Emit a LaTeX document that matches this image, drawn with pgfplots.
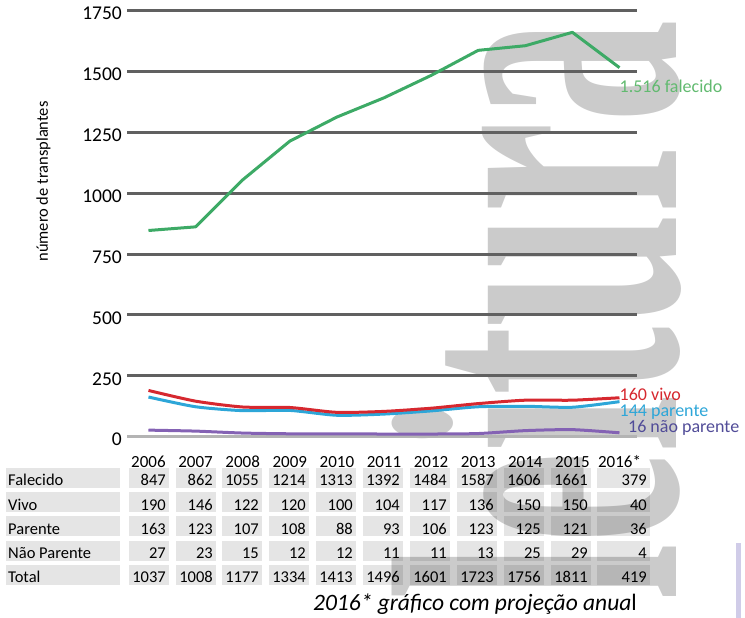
\documentclass[border=0pt]{standalone}
\usepackage{pgfplots}
\pgfplotsset{compat=1.18}
\usepackage{fontspec}
\setmainfont{Carlito}
\newfontfamily\wmfont{Liberation Serif}

\definecolor{gridc}{HTML}{606060}
\definecolor{zeroc}{HTML}{B4B4B4}
\definecolor{wm}{HTML}{CBCBCB}
\definecolor{falc}{HTML}{3DAA66}
\definecolor{fallab}{HTML}{62BA70}
\definecolor{vivoc}{HTML}{D6282F}
\definecolor{parc}{HTML}{2DA6D8}
\definecolor{naoc}{HTML}{8462B4}
\definecolor{naolab}{HTML}{514C98}

\newcommand\tabfont{\fontsize{16.5bp}{18bp}\selectfont}

\begin{document}
\begin{tikzpicture}
\begin{scope}[x=1bp,y=1bp]
\path[use as bounding box] (0,0) rectangle (745,618);

% watermark
\node[rotate=90, anchor=base east, inner sep=0pt, text=wm]
  at (676,598) {\scalebox{0.5}[1]{\wmfont\bfseries\fontsize{410bp}{410bp}\selectfont leitura}};
\fill[color={rgb,255:red,208;green,204;blue,232}] (736,0) rectangle (741,75);

% table below the chart
\foreach \lab/\vals [count=\r from 0] in {
  Falecido/{847,862,1055,1214,1313,1392,1484,1587,1606,1661,379},
  Vivo/{190,146,122,120,100,104,117,136,150,150,40},
  Parente/{163,123,107,108,88,93,106,123,125,121,36},
  Não Parente/{27,23,15,12,12,11,11,13,25,29,4},
  Total/{1037,1008,1177,1334,1413,1496,1601,1723,1756,1811,419}}
{
  \pgfmathsetmacro\by{618-486-24.2*\r}
  \fill[black, fill opacity=0.1] (6,\by-2) rectangle (120,\by+18);
  \node[anchor=base west, inner sep=0pt, font=\tabfont] at (8,\by) {\lab};
  \foreach \v [count=\c] in \vals {
    \pgfmathsetmacro\rx{{166,213,259,306,353,400,447,494,541,588,647}[\c-1]}
    \pgfmathsetmacro\lx{\c==11 ? 597 : \rx-37}
    \fill[black, fill opacity=0.1] (\lx,\by-2) rectangle (\rx+3,\by+18);
    \node[anchor=base east, inner sep=0pt, font=\tabfont] at (\rx,\by) {\v};
  }
}

\node[rotate=90, inner sep=0pt, font=\fontsize{16.5bp}{18bp}\selectfont]
  at (43.5,436.4) {número de transplantes};

\node[anchor=base, inner sep=0pt, font=\fontsize{23.5bp}{25bp}\selectfont]
  at (475,7) {\itshape 2016* gráfico com projeção anua\upshape l};
\end{scope}

\begin{axis}[
  at={(127bp,175.2bp)}, anchor=south west,
  scale only axis, width=510bp, height=438.2bp,
  xmin=2005.544, xmax=2016.372, ymin=-25, ymax=1775,
  axis line style={draw=none}, major tick length=0pt,
  xtick={2006,2007,2008,2009,2010,2011,2012,2013,2014,2015,2016},
  xticklabels={2006,2007,2008,2009,2010,2011,2012,2013,2014,2015,2016*},
  ytick={250,500,750,1000,1250,1500,1750},
  extra y ticks={0},
  extra y tick style={grid style={line width=3bp, color=zeroc}},
  ymajorgrids,
  grid style={line width=3bp, color=gridc},
  /pgf/number format/assume math mode=true,
  /pgf/number format/1000 sep={},
  yticklabel style={font=\fontsize{19.5bp}{21bp}\selectfont, anchor=east,
    inner sep=0pt, xshift=-5bp, yshift=-3bp},
  xticklabel style={font=\fontsize{17bp}{19bp}\selectfont, anchor=base,
    inner sep=0pt, yshift=-25bp},
  clip=false,
  line join=round,
]
\addplot[naoc, line width=3bp, smooth, tension=0.4] coordinates {
  (2006,27) (2007,23) (2008,15) (2009,12) (2010,12) (2011,11)
  (2012,11) (2013,13) (2014,25) (2015,29) (2016,16)};
\addplot[parc, line width=3bp, smooth, tension=0.4] coordinates {
  (2006,163) (2007,123) (2008,107) (2009,108) (2010,88) (2011,93)
  (2012,106) (2013,123) (2014,125) (2015,121) (2016,144)};
\addplot[vivoc, line width=3bp, smooth, tension=0.4] coordinates {
  (2006,190) (2007,146) (2008,122) (2009,120) (2010,100) (2011,104)
  (2012,117) (2013,136) (2014,150) (2015,150) (2016,160)};
\addplot[falc, line width=3bp] coordinates {
  (2006,847) (2007,862) (2008,1055) (2009,1214) (2010,1313) (2011,1392)
  (2012,1484) (2013,1587) (2014,1606) (2015,1661) (2016,1516)};

\node[anchor=west, inner sep=0pt, text=fallab, font=\fontsize{18bp}{20bp}\selectfont]
  at (axis cs:2016,1441) {1.516 falecido};
\node[anchor=west, inner sep=0pt, text=vivoc, font=\fontsize{18bp}{20bp}\selectfont]
  at (axis cs:2016,175) {160 vivo};
\node[anchor=west, inner sep=0pt, text=parc, font=\fontsize{18bp}{20bp}\selectfont]
  at (axis cs:2016,101) {144 parente};
\node[anchor=west, inner sep=0pt, text=naolab, font=\fontsize{18bp}{20bp}\selectfont]
  at (axis cs:2016.18,36) {16 não parente};
\end{axis}
\end{tikzpicture}
\end{document}
